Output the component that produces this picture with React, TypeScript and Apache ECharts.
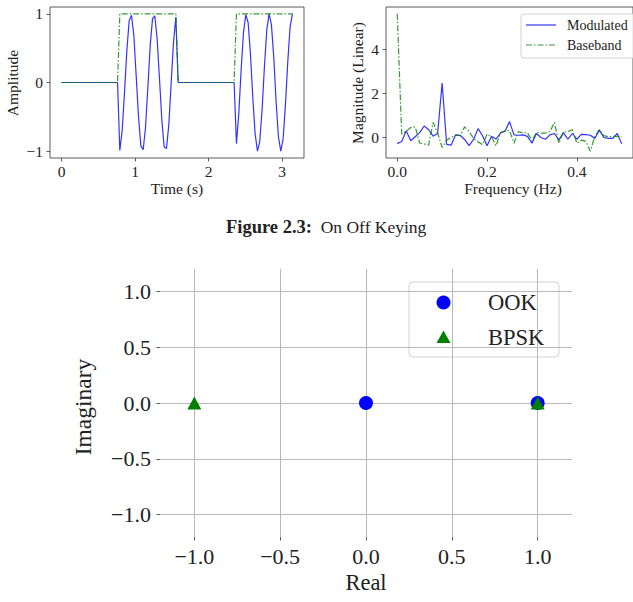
import React, { useEffect, useRef } from "react";
import * as echarts from "echarts";

// ---- Time-domain OOK signal (100 samples over 0..pi s) ----
const modulatedSignal: [number, number][] = [
  [0, 0], [0.762, 0],
  [0.793, -0.99], [0.825, -0.7], [0.857, -0.14], [0.889, 0.47], [0.92, 0.9], [0.952, 0.98],
  [0.984, 0.68], [1.015, 0.11], [1.047, -0.5], [1.079, -0.92], [1.111, -0.98], [1.142, -0.66],
  [1.174, -0.08], [1.206, 0.53], [1.238, 0.93], [1.269, 0.97], [1.301, 0.63], [1.333, 0.05],
  [1.365, -0.55], [1.396, -0.94], [1.428, -0.96], [1.46, -0.61], [1.491, -0.02], [1.523, 0.58],
  [1.555, 0.95],
  [1.587, 0], [2.348, 0],
  [2.38, -0.89], [2.412, -0.45], [2.443, 0.17], [2.475, 0.72], [2.507, 0.99], [2.539, 0.87],
  [2.57, 0.42], [2.602, -0.21], [2.634, -0.75], [2.666, -1.0], [2.697, -0.86], [2.729, -0.39],
  [2.761, 0.24], [2.793, 0.77], [2.824, 1.0], [2.856, 0.84], [2.888, 0.36], [2.919, -0.27],
  [2.951, -0.79], [2.983, -1.0], [3.015, -0.82], [3.046, -0.33], [3.078, 0.3], [3.11, 0.81],
  [3.142, 1.0],
];
const basebandSignal: [number, number][] = [
  [0, 0], [0.762, 0], [0.793, 1], [1.555, 1], [1.587, 0], [2.348, 0], [2.38, 1], [3.142, 1],
];

// ---- Spectra ----
const frequencyHz = [
  0, 0.01, 0.02, 0.03, 0.04, 0.05, 0.06, 0.07, 0.08, 0.09,
  0.1, 0.11, 0.12, 0.13, 0.14, 0.15, 0.16, 0.17, 0.18, 0.19,
  0.2, 0.21, 0.22, 0.23, 0.24, 0.25, 0.26, 0.27, 0.28, 0.29,
  0.3, 0.31, 0.32, 0.33, 0.34, 0.35, 0.36, 0.37, 0.38, 0.39,
  0.4, 0.41, 0.42, 0.43, 0.44, 0.45, 0.46, 0.47, 0.48, 0.49, 0.5,
];
const modulatedSpectrum = [
  -0.28, -0.18, 0.3, -0.15, 0.03, 0.22, 0.52, 0.35, 0.06, 0.19,
  2.47, -0.31, -0.35, 0.12, 0.1, -0.09, -0.37, -0.09, 0.4, 0.08,
  -0.38, 0.06, -0.07, 0.2, 0.28, 0.72, 0.12, 0.1, 0.12, 0.05,
  -0.26, 0.18, 0.0, -0.08, 0.12, 0.18, -0.12, 0.22, -0.08, 0.18,
  -0.08, 0.14, 0.13, 0.1, -0.05, 0.33, 0.0, -0.04, -0.04, 0.18, -0.29,
];
const basebandSpectrum = [
  5.6, 0.15, 0.27, 0.45, 0.48, -0.25, -0.29, -0.35, 0.68, 0.2,
  -0.45, -0.12, 0.0, 0.1, 0.08, 0.48, 0.28, -0.05, -0.2, -0.32,
  0.15, 0.02, -0.38, 0.22, 0.3, 0.32, -0.26, 0.27, 0.2, 0.22,
  -0.16, 0.23, 0.2, 0.2, 0.27, 0.68, -0.26, 0.24, 0.27, 0.35,
  -0.26, -0.12, -0.18, -0.62, 0.05, 0.36, 0.08, 0.03, 0.05, 0.05, 0.02,
];

// ---- Constellation points ----
const ookPoints: [number, number][] = [[0, 0], [1, 0]];
const bpskPoints: [number, number][] = [[-1, 0], [1, 0]];

// ---- Tick values ----
const timeTicks = [0, 1, 2, 3];
const amplitudeTicks = [-1, 0, 1];
const frequencyTicks = [0, 0.2, 0.4];
const magnitudeTicks = [0, 2, 4];
const constellationTicks = [-1, -0.5, 0, 0.5, 1];

const SERIF = '"Liberation Serif", "DejaVu Serif", serif';
const INK = "#222";
const BLUE_LINE = "rgba(0,0,255,0.8)";
const GREEN_LINE = "rgba(0,128,0,0.8)";
const DASH_DOT = [6, 2, 1.5, 2];
const SMALL = 15.5;
const LARGE = 22;

const withMinus = (s: string) => s.replace("-", "\u2212");

function axis(
  gridIndex: number,
  min: number,
  max: number,
  ticks: number[],
  fmt: (v: number) => string,
  fontSize: number,
  margin: number
) {
  return {
    type: "value",
    gridIndex,
    min,
    max,
    axisLine: { show: false, onZero: false },
    splitLine: { show: false },
    axisTick: {
      show: true,
      inside: false,
      length: 3.5,
      customValues: ticks,
      lineStyle: { color: "#333", width: 0.8 },
    },
    axisLabel: {
      customValues: ticks,
      formatter: (v: number) => fmt(v),
      fontFamily: SERIF,
      fontSize,
      color: INK,
      margin,
    },
  };
}

function text(x: number, y: number, str: string, fontSize: number, rotation = 0, align = "center") {
  return {
    type: "text",
    x,
    y,
    rotation,
    z: 50,
    style: {
      text: str,
      fontFamily: SERIF,
      fontSize,
      fill: INK,
      align,
      verticalAlign: "middle",
    },
  };
}

export default function App() {
  const ref = useRef<HTMLDivElement>(null);

  useEffect(() => {
    if (!ref.current) return;
    const chart = echarts.init(ref.current, undefined, { renderer: "svg" });

    const option = {
      animation: false,
      backgroundColor: "#fff",
      grid: [
        { left: 50, top: 7, width: 254, height: 151, show: true, borderColor: "#333", borderWidth: 0.8, backgroundColor: "transparent" },
        { left: 386, top: 7, width: 254, height: 151, show: true, borderColor: "#333", borderWidth: 0.8, backgroundColor: "transparent" },
        { left: 160, top: 269, width: 412, height: 268 },
      ],
      xAxis: [
        axis(0, -0.157, 3.299, timeTicks, (v) => String(v), SMALL, 5),
        axis(1, -0.025, 0.525, frequencyTicks, (v) => v.toFixed(1), SMALL, 5),
        axis(2, -1.2, 1.2, constellationTicks, (v) => withMinus(v.toFixed(1)), LARGE, 8),
      ],
      yAxis: [
        axis(0, -1.1, 1.1, amplitudeTicks, (v) => withMinus(String(v)), SMALL, 7),
        axis(1, -0.93, 5.91, magnitudeTicks, (v) => String(v), SMALL, 7),
        axis(2, -1.2, 1.2, constellationTicks, (v) => withMinus(v.toFixed(1)), LARGE, 9),
      ],
      series: [
        {
          name: "Modulated",
          type: "line",
          xAxisIndex: 0,
          yAxisIndex: 0,
          data: modulatedSignal,
          showSymbol: false,
          lineStyle: { color: BLUE_LINE, width: 1.2 },
          itemStyle: { color: BLUE_LINE },
        },
        {
          name: "Baseband",
          type: "line",
          xAxisIndex: 0,
          yAxisIndex: 0,
          data: basebandSignal,
          showSymbol: false,
          lineStyle: { color: GREEN_LINE, width: 1.2, type: DASH_DOT },
          itemStyle: { color: GREEN_LINE },
        },
        {
          name: "Modulated spectrum",
          type: "line",
          xAxisIndex: 1,
          yAxisIndex: 1,
          data: frequencyHz.map((f, i) => [f, modulatedSpectrum[i]]),
          showSymbol: false,
          lineStyle: { color: BLUE_LINE, width: 1.2 },
          itemStyle: { color: BLUE_LINE },
        },
        {
          name: "Baseband spectrum",
          type: "line",
          xAxisIndex: 1,
          yAxisIndex: 1,
          data: frequencyHz.map((f, i) => [f, basebandSpectrum[i]]),
          showSymbol: false,
          lineStyle: { color: GREEN_LINE, width: 1.2, type: DASH_DOT },
          itemStyle: { color: GREEN_LINE },
        },
        {
          // constellation grid lines
          type: "line",
          xAxisIndex: 2,
          yAxisIndex: 2,
          data: [],
          z: 1,
          silent: true,
          markLine: {
            z: 1,
            silent: true,
            symbol: ["none", "none"],
            label: { show: false },
            lineStyle: { color: "#b8b8b8", width: 1, type: "solid" },
            data: [
              ...constellationTicks.map((v) => ({ xAxis: v })),
              ...constellationTicks.map((v) => ({ yAxis: v })),
            ],
          },
        },
        {
          name: "OOK",
          type: "scatter",
          xAxisIndex: 2,
          yAxisIndex: 2,
          data: ookPoints,
          symbol: "circle",
          symbolSize: 14,
          z: 10,
          itemStyle: { color: "#0000ff", opacity: 1 },
        },
        {
          name: "BPSK",
          type: "scatter",
          xAxisIndex: 2,
          yAxisIndex: 2,
          data: bpskPoints,
          symbol: "triangle",
          symbolSize: [14, 13],
          z: 11,
          itemStyle: { color: "#008000", opacity: 1 },
        },
      ],
      graphic: [
        // axis titles, top row
        text(12, 83, "Amplitude", SMALL, Math.PI / 2),
        text(177, 188, "Time (s)", SMALL),
        text(357, 83, "Magnitude (Linear)", SMALL, Math.PI / 2),
        text(513, 188, "Frequency (Hz)", SMALL),
        // caption
        {
          type: "text",
          x: 226,
          y: 227,
          z: 50,
          style: {
            text: "{b|Figure 2.3:}  On Off Keying",
            fontFamily: SERIF,
            fontSize: 17.5,
            fill: INK,
            verticalAlign: "middle",
            rich: {
              b: { fontFamily: SERIF, fontSize: 18.5, fontWeight: "bold", fill: INK },
            },
          },
        },
        // spectrum legend
        {
          type: "group",
          z: 60,
          children: [
            {
              type: "rect",
              shape: { x: 521, y: 14, width: 130, height: 44, r: 3 },
              style: { fill: "rgba(255,255,255,0.8)", stroke: "#d0d0d0", lineWidth: 1 },
            },
            {
              type: "line",
              shape: { x1: 526, y1: 25, x2: 556, y2: 25 },
              style: { stroke: BLUE_LINE, lineWidth: 1.2 },
            },
            {
              type: "line",
              shape: { x1: 526, y1: 45, x2: 556, y2: 45 },
              style: { stroke: GREEN_LINE, lineWidth: 1.2, lineDash: DASH_DOT },
            },
            text(567, 25, "Modulated", 14, 0, "left"),
            text(567, 45, "Baseband", 14, 0, "left"),
          ],
        },
        // constellation axis titles
        text(83, 407, "Imaginary", 23.5, Math.PI / 2),
        text(366, 582, "Real", 22.5),
        // constellation legend
        {
          type: "group",
          z: 60,
          children: [
            {
              type: "rect",
              shape: { x: 409, y: 282, width: 150, height: 75, r: 4 },
              style: { fill: "rgba(255,255,255,0.8)", stroke: "#d0d0d0", lineWidth: 1 },
            },
            {
              type: "circle",
              shape: { cx: 443.5, cy: 302.5, r: 7 },
              style: { fill: "#0000ff" },
            },
            {
              type: "polygon",
              shape: { points: [[443.5, 330.5], [436.5, 343], [450.5, 343]] },
              style: { fill: "#008000" },
            },
            text(488, 302.5, "OOK", 22.5, 0, "left"),
            text(488, 337, "BPSK", 22.5, 0, "left"),
          ],
        },
      ],
    };

    chart.setOption(option as any);
    return () => chart.dispose();
  }, []);

  return (
    <div
      ref={ref}
      style={{ position: "absolute", left: 0, top: 0, width: 633, height: 602 }}
    />
  );
}
